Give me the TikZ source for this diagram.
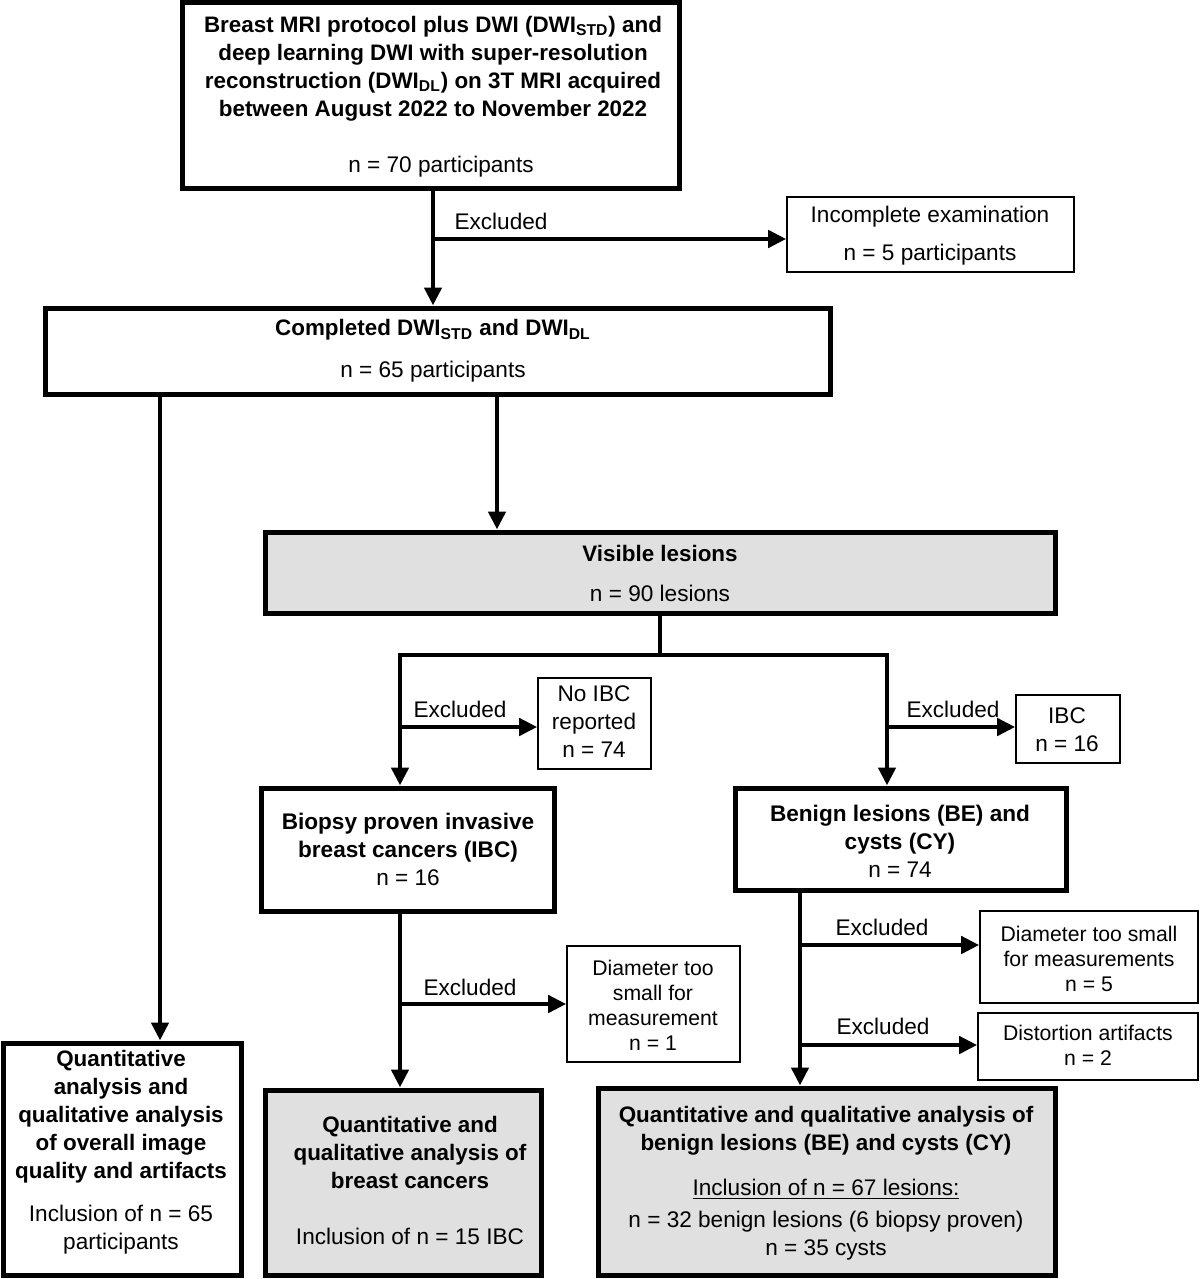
\documentclass[tikz,border=0pt]{standalone}
\usepackage{fontspec}
\setmainfont{Liberation Sans}
\usetikzlibrary{arrows.meta}
\definecolor{boxgray}{RGB}{224,224,224}
\begin{document}
\begin{tikzpicture}[x=0.5pt,y=-0.5pt,
 thickbox/.style={draw,line width=2.5pt,inner sep=0pt},
 thinbox/.style={draw,line width=0.8pt,inner sep=0pt},
 shaded/.style={fill=boxgray},
 arr/.style={line width=2.4pt,line join=miter,-{Triangle[length=9pt,width=8.5pt]}},
 ln/.style={line width=2.4pt},
 txt/.style={align=center,inner sep=0pt,font=\fontsize{11.3}{14}\selectfont},
 smalltxt/.style={align=center,inner sep=0pt,font=\fontsize{10.6}{12.5}\selectfont},
 bt/.style={align=center,inner sep=0pt,font=\fontsize{11.2}{14}\selectfont\bfseries},
]
\useasboundingbox (0,0) rectangle (1200,1279);
% boxes
\node[thickbox,minimum width=248.5pt,minimum height=92.5pt] (b1) at (430.5,95.5) {};
\node[thinbox,minimum width=143.5pt,minimum height=37.5pt] (inc) at (930.5,234.5) {};
\node[thickbox,minimum width=392.5pt,minimum height=43pt] (b2) at (437.5,351) {};
\node[thickbox,shaded,minimum width=395pt,minimum height=40.5pt] (vis) at (660,572.5) {};
\node[thinbox,minimum width=56.5pt,minimum height=45.5pt] (noibc) at (594.5,723.5) {};
\node[thinbox,minimum width=52pt,minimum height=34pt] (ibc) at (1068,729) {};
\node[thickbox,minimum width=146.5pt,minimum height=61.5pt] (bio) at (407.5,849.5) {};
\node[thickbox,minimum width=165.5pt,minimum height=51pt] (ben) at (900.5,839) {};
\node[thinbox,minimum width=86.5pt,minimum height=58pt] (dia1) at (653.5,1004) {};
\node[thinbox,minimum width=109pt,minimum height=46pt] (dia2) at (1089,957) {};
\node[thinbox,minimum width=110pt,minimum height=33.5pt] (dist) at (1088,1046.5) {};
\node[thickbox,minimum width=119pt,minimum height=116pt] (q1) at (122,1159) {};
\node[thickbox,shaded,minimum width=138pt,minimum height=92.5pt] (q2) at (403,1182.5) {};
\node[thickbox,shaded,minimum width=228.5pt,minimum height=93.5pt] (q3) at (826.5,1181.5) {};
% coordinates
\coordinate (xA) at (433,0);
\coordinate (e1) at (433,239);
\coordinate (xL) at (160,0);
\coordinate (xV) at (497,0);
\coordinate (j1) at (660,655);
\coordinate (jl) at (400,655);
\coordinate (jr) at (887,655);
\coordinate (e2) at (400,727);
\coordinate (e3) at (887,727);
\coordinate (xB) at (400,0);
\coordinate (e4) at (400,1004);
\coordinate (xC) at (800,0);
\coordinate (e5) at (800,945);
\coordinate (e6) at (800,1045);
% connectors
\draw[arr] (b1.south -| xA) -- (b2.north -| xA);
\draw[arr] (e1) -- (inc.west |- e1);
\draw[arr] (b2.south -| xL) -- (q1.north -| xL);
\draw[arr] (b2.south -| xV) -- (vis.north -| xV);
\draw[ln] (vis.south) -- (j1);
\draw[arr] (jr) -- (jl) -- (bio.north -| jl);
\draw[arr] (jl) -- (jr) -- (ben.north -| jr);
\draw[arr] (e2) -- (noibc.west |- e2);
\draw[arr] (e3) -- (ibc.west |- e3);
\draw[arr] (bio.south -| xB) -- (q2.north -| xB);
\draw[arr] (e4) -- (dia1.west |- e4);
\draw[arr] (ben.south -| xC) -- (q3.north -| xC);
\draw[arr] (e5) -- (dia2.west |- e5);
\draw[arr] (e6) -- (dist.west |- e6);
% texts
\node[bt] (t1) at (433,68.5) {Breast MRI protocol plus DWI (DWI\textsubscript{STD}) and\\deep learning DWI with super-resolution\\reconstruction (DWI\textsubscript{DL}) on 3T MRI acquired\\between August 2022 to November 2022};
\node[txt] (t1n) at (441,167) {n = 70 participants};
\node[txt] (ex1) at (501,221) {Excluded};
\node[txt] (tinc) at (930,236) {Incomplete examination\\[5pt]n = 5 participants};
\node[bt] (t2) at (433,330) {Completed DWI\textsubscript{STD} and DWI\textsubscript{DL}};
\node[txt] (t2n) at (433,372) {n = 65 participants};
\node[bt] (tv) at (660,553) {Visible lesions};
\node[txt] (tvn) at (660,593) {n = 90 lesions};
\node[txt] (ex2) at (460,709) {Excluded};
\node[txt] (tno) at (594,722) {No IBC\\reported\\n = 74};
\node[txt] (ex3) at (953,709) {Excluded};
\node[txt] (tibc) at (1067,730) {IBC\\n = 16};
\node[txt] (tbio) at (408,849) {\textbf{Biopsy proven invasive}\\\textbf{breast cancers (IBC)}\\n = 16};
\node[txt] (tben) at (900,841) {\textbf{Benign lesions (BE) and}\\\textbf{cysts (CY)}\\n = 74};
\node[txt] (ex4) at (470,987) {Excluded};
\node[smalltxt] (tdia1) at (653,1005) {Diameter too\\small for\\measurement\\n = 1};
\node[txt] (ex5) at (882,927) {Excluded};
\node[smalltxt] (tdia2) at (1089,959) {Diameter too small\\for measurements\\n = 5};
\node[txt] (ex6) at (883,1026) {Excluded};
\node[smalltxt] (tdist) at (1088,1045) {Distortion artifacts\\n = 2};
\node[bt] (tq1) at (121,1117) {Quantitative\\analysis and\\qualitative analysis\\of overall image\\quality and artifacts};
\node[txt] (tq1n) at (121,1230) {Inclusion of n = 65\\participants};
\node[bt] (tq2) at (410,1152) {Quantitative and\\qualitative analysis of\\breast cancers};
\node[txt] (tq2n) at (410,1236) {Inclusion of n = 15 IBC};
\node[bt] (tq3) at (826,1131) {Quantitative and qualitative analysis of\\benign lesions (BE) and cysts (CY)};
\node[txt] (tq3u) at (826,1189) {\underline{Inclusion of n = 67 lesions:}};
\node[txt] (tq3n) at (826,1236) {n = 32 benign lesions (6 biopsy proven)\\n = 35 cysts};
\end{tikzpicture}
\end{document}
